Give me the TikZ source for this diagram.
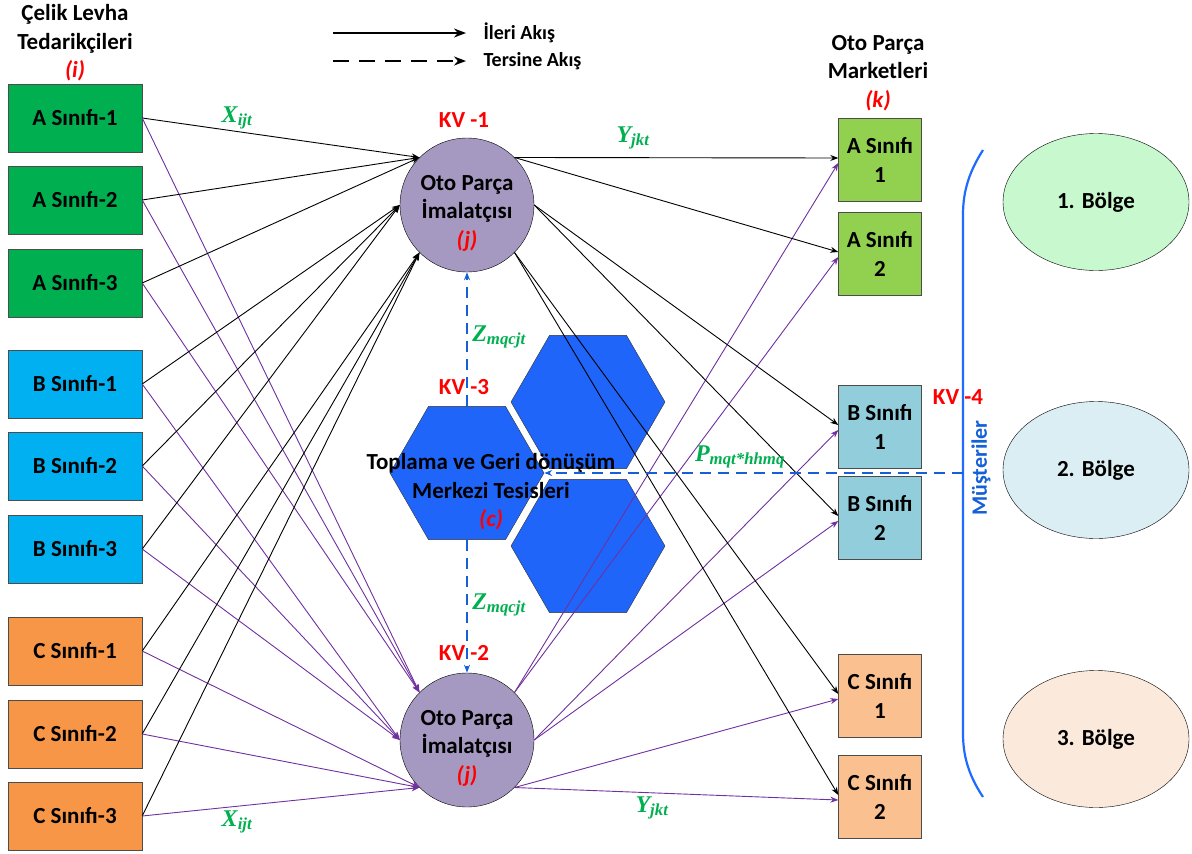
\documentclass[tikz,border=0pt]{standalone}
\usepackage{fontspec}
\setmainfont{Carlito}
\newfontfamily\lblfont{Liberation Serif}
\usetikzlibrary{shapes.geometric,arrows.meta}

\definecolor{supA}{HTML}{00B050}
\definecolor{supB}{HTML}{00B0F0}
\definecolor{supC}{HTML}{F79646}
\definecolor{mktA}{HTML}{92D050}
\definecolor{mktB}{HTML}{92CDDC}
\definecolor{mktC}{HTML}{FAC090}
\definecolor{plantfill}{HTML}{A699C1}
\definecolor{hexblue}{HTML}{1F65FA}
\definecolor{regA}{HTML}{C8F8CD}
\definecolor{regB}{HTML}{DAEEF3}
\definecolor{regC}{HTML}{FBE9DB}
\definecolor{flowpurple}{HTML}{7030A0}
\definecolor{lblgreen}{HTML}{00B050}
\definecolor{revblue}{HTML}{1560D8}
\definecolor{braceblue}{HTML}{1F6BFF}

\newcommand{\flowlbl}[2]{{\lblfont\fontsize{24}{24}\selectfont\bfseries\itshape\color{lblgreen}#1\textsubscript{#2}}}

\begin{document}
\begin{tikzpicture}[x=1pt, y=-1pt,
    font=\fontsize{23}{28.5}\selectfont\bfseries,
    supbox/.style={rectangle, draw=black!70, minimum width=134pt, minimum height=68pt},
    mktbox/.style={rectangle, draw=black!70, minimum width=83pt, minimum height=83pt, align=center},
    plant/.style={circle, draw, fill=plantfill, minimum size=134pt, inner sep=0pt},
    hexa/.style={regular polygon, regular polygon sides=6, minimum size=154pt, inner sep=0pt, fill=hexblue, draw=black!80},
    region/.style={ellipse, draw, minimum width=186pt, minimum height=137pt},
    kvlbl/.style={text=red},
    fwd/.style={-{Stealth[length=8pt,width=6pt]}, line width=0.9pt},
    rev/.style={-{Stealth[length=8pt,width=6pt]}, draw=revblue, line width=1.8pt, dash pattern=on 11pt off 7pt}
  ]
  \useasboundingbox (0,0) rectangle (1192,854);

  % legend
  \node[anchor=west, font=\fontsize{20}{24}\selectfont\bfseries] (ileri) at (480,33) {İleri Akış};
  \node[anchor=west, font=\fontsize{20}{24}\selectfont\bfseries] (tersine) at (480,61) {Tersine Akış};
  \coordinate (lgA) at (333,33);
  \coordinate (lgB) at (333,61);
  \draw[-{Stealth[length=12pt,width=9pt]}, line width=2pt] (lgA) -- ([xshift=-14pt]ileri.west);
  \draw[-{Stealth[length=12pt,width=9pt]}, line width=2pt, dash pattern=on 16pt off 10pt] (lgB) -- ([xshift=-14pt]tersine.west);

  % headers
  \node[align=center] (supHead) at (75,43) {Çelik Levha\\Tedarikçileri\\\textcolor{red}{\itshape(i)}};
  \node[align=center] (mktHead) at (878,73) {Oto Parça\\Marketleri\\\textcolor{red}{\itshape(k)}};

  % suppliers
  \foreach \l/\k/\y in {A/1/118, A/2/200, A/3/283, B/1/384, B/2/466, B/3/549, C/1/651, C/2/734, C/3/816}
    \node[supbox, fill=sup\l] (s\l\k) at (75,\y) {\l{} Sınıfı-\k};

  % markets
  \foreach \l/\k/\y in {A/1/160, A/2/254, B/1/427, B/2/518, C/1/696, C/2/797}
    \node[mktbox, fill=mkt\l] (m\l\k) at (880,\y) {\l{} Sınıfı\\\k};

  % regions
  \node[region, fill=regA] (r1) at (1096,202) {1. Bölge};
  \node[region, fill=regB] (r2) at (1096,470) {2. Bölge};
  \node[region, fill=regC] (r3) at (1096,739) {3. Bölge};

  % collection centres
  \node[hexa] (hexC) at (467,473) {};
  \node[hexa] (hexT) at (588,402) {};
  \node[hexa] (hexB) at (588,546) {};
  \node[align=center] (hexTxt) at (491,492) {Toplama ve Geri dönüşüm\\Merkezi Tesisleri\\\textcolor{red}{\itshape(c)}};

  % plants
  \node[plant] (kv1) at (467,205) {};
  \node[plant] (kv2) at (467,740) {};
  \node[align=center] (kv1Txt) at (467,213) {Oto Parça\\İmalatçısı\\\textcolor{red}{\itshape(j)}};
  \node[align=center] (kv2Txt) at (467,748) {Oto Parça\\İmalatçısı\\\textcolor{red}{\itshape(j)}};

  \node[kvlbl] (kvA) at (464,120) {KV -1};
  \node[kvlbl] (kvB) at (464,653) {KV -2};
  \node[kvlbl] (kvC) at (464,387) {KV -3};
  \node[kvlbl] (kvD) at (958,397) {KV -4};

  % forward flows
  \foreach \l/\a in {A/135, B/180, C/225}
    \foreach \k in {1,2,3} {
      \draw[fwd] (s\l\k.east) -- (kv1.\a);
      \draw[fwd, flowpurple] (s\l\k.east) -- (kv2.\a);
    }
  \foreach \l/\a in {A/45, B/0, C/-45}
    \foreach \k in {1,2} {
      \draw[fwd] (kv1.\a) -- ([yshift=2pt]m\l\k.west);
      \draw[fwd, flowpurple] (kv2.\a) -- ([yshift=-3pt]m\l\k.west);
    }

  % customers
  \draw[draw=braceblue, line width=2.2pt] (983,150) .. controls (967,175) and (963,195) .. (963,215) -- (963,733) .. controls (963,753) and (967,773) .. (983,797);
  \coordinate (cust) at (963,473);
  \node[rotate=90, text=revblue, font=\fontsize{22}{24}\selectfont\bfseries] (musteri) at (981,468) {Müşteriler};

  % reverse flows
  \draw[rev] (cust) -- (hexC.east);
  \draw[rev] (hexC.north) -- (hexC.north |- kv1.south);
  \draw[rev] (hexC.south) -- (hexC.south |- kv2.north);

  % flow labels
  \node (xTop) at (237,118) {\flowlbl{X}{ijt}};
  \node (xBot) at (237,822) {\flowlbl{X}{ijt}};
  \node (yTop) at (633,138) {\flowlbl{Y}{jkt}};
  \node (yBot) at (652,808) {\flowlbl{Y}{jkt}};
  \node (zTop) at (499,337) {\flowlbl{Z}{mqcjt}};
  \node (zBot) at (499,605) {\flowlbl{Z}{mqcjt}};
  \node (pLbl) at (740,457) {\flowlbl{P}{mqt*hhmq}};
\end{tikzpicture}
\end{document}
